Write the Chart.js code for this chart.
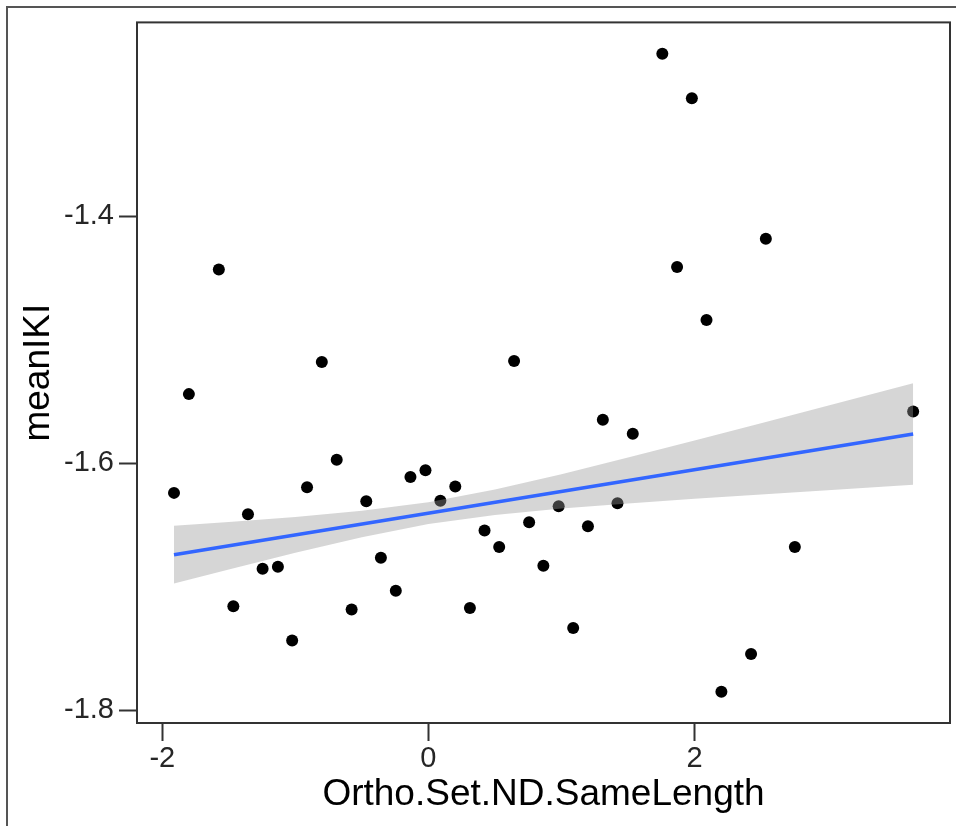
<!DOCTYPE html>
<html>
<head>
<meta charset="utf-8">
<title>meanIKI vs Ortho.Set.ND.SameLength</title>
<script src="https://cdn.jsdelivr.net/npm/chart.js@4.4.1/dist/chart.umd.min.js"></script>
<style>
  html, body { margin: 0; padding: 0; background: #fff; }
  #wrap { position: relative; width: 956px; height: 826px; }
  #frame {
    position: absolute; left: 6px; top: 6px; right: 0; bottom: 0;
    border-top: 2px solid #555; border-left: 2px solid #555;
    pointer-events: none;
  }
  canvas { position: absolute; left: 0; top: 0; }
</style>
</head>
<body>
<div id="wrap">
  <div id="frame"></div>
  <canvas id="chart" width="956" height="826"></canvas>
</div>
<script>
const xValues = [
  1.758, 1.980, -1.575, 2.536, 1.869, 2.090, -1.800, -0.801, 0.644, 3.643,
  1.311, 1.536, -1.912, -0.689, -0.912, -0.135, -0.022, 0.202, 0.090, -0.467,
  -1.356, 0.979, 1.421, 0.422, 0.757, 1.199, 0.532, 2.754, -0.357, -1.246,
  -1.131, 0.864, -0.245, -1.466, -0.577, 0.312, 1.088, -1.024, 2.425, 2.202
];
const yValues = [
  -1.2683, -1.3044, -1.4431, -1.4183, -1.4412, -1.4840, -1.5441, -1.5180, -1.5172, -1.5581,
  -1.5648, -1.5762, -1.6241, -1.5972, -1.6196, -1.6112, -1.6057, -1.6190, -1.6305, -1.6309,
  -1.6414, -1.6349, -1.6325, -1.6545, -1.6478, -1.6511, -1.6680, -1.6680, -1.6766, -1.6855,
  -1.6839, -1.6831, -1.7033, -1.7160, -1.7186, -1.7173, -1.7335, -1.7437, -1.7547, -1.7852
];

// linear fit and its confidence band
const fitX = [-1.912, 3.643];
const fitY = [-1.6742, -1.5764];
const bandX = [-1.912, -1.5, -1, -0.5, 0, 0.5, 1, 1.5, 2, 2.5, 3, 3.643];
const bandUpper = [-1.6507, -1.6477, -1.6436, -1.6386, -1.6316, -1.6214, -1.6090, -1.5955, -1.5817, -1.5676, -1.5535, -1.5352];
const bandLower = [-1.6976, -1.6862, -1.6726, -1.6600, -1.6494, -1.6420, -1.6368, -1.6327, -1.6289, -1.6254, -1.6220, -1.6176];

const xTicks = [-2, 0, 2];
const yTicks = [-1.8, -1.6, -1.4];

const toXY = (xs, ys) => xs.map((x, i) => ({ x, y: ys[i] }));

// panel border, drawn on top like ggplot's panel.border
const panelBorder = {
  id: 'panelBorder',
  afterDraw(chart) {
    const { ctx, chartArea: a } = chart;
    ctx.save();
    ctx.strokeStyle = '#333';
    ctx.lineWidth = 2;
    ctx.strokeRect(a.left, a.top, a.right - a.left, a.bottom - a.top);
    ctx.restore();
  }
};

const ctx = document.getElementById('chart').getContext('2d');
new Chart(ctx, {
  type: 'scatter',
  data: {
    datasets: [
      {
        type: 'line',
        label: 'fit',
        data: toXY(fitX, fitY),
        borderColor: '#3366FF',
        borderWidth: 3.5,
        pointRadius: 0,
        showLine: true,
        fill: false,
        order: 1
      },
      {
        type: 'line',
        label: 'upper',
        data: toXY(bandX, bandUpper),
        borderWidth: 0,
        borderColor: 'rgba(0,0,0,0)',
        backgroundColor: 'rgba(153,153,153,0.4)',
        pointRadius: 0,
        showLine: true,
        fill: '+1',
        order: 2
      },
      {
        type: 'line',
        label: 'lower',
        data: toXY(bandX, bandLower),
        borderWidth: 0,
        borderColor: 'rgba(0,0,0,0)',
        pointRadius: 0,
        showLine: true,
        fill: false,
        order: 2
      },
      {
        label: 'meanIKI',
        data: toXY(xValues, yValues),
        backgroundColor: '#000',
        borderWidth: 0,
        pointRadius: 6,
        order: 3
      }
    ]
  },
  options: {
    responsive: false,
    animation: false,
    events: [],
    layout: { padding: { top: 21, right: 4, left: 0, bottom: 0 } },
    plugins: {
      legend: { display: false },
      tooltip: { enabled: false }
    },
    scales: {
      x: {
        type: 'linear',
        min: -2.190,
        max: 3.920,
        afterBuildTicks: (scale) => { scale.ticks = xTicks.map(v => ({ value: v })); },
        afterFit: (scale) => { scale.height = 103; },
        grid: {
          drawOnChartArea: false,
          drawTicks: true,
          tickLength: 18,
          tickWidth: 2,
          tickColor: '#333'
        },
        border: { display: false },
        ticks: {
          padding: 1,
          color: '#262626',
          font: { family: 'Liberation Sans, Arial, sans-serif', size: 29 },
          callback: (v) => String(v)
        },
        title: {
          display: true,
          text: 'Ortho.Set.ND.SameLength',
          color: '#000',
          font: { family: 'Liberation Sans, Arial, sans-serif', size: 37 },
          padding: { top: 0, bottom: 9 }
        }
      },
      y: {
        type: 'linear',
        min: -1.8105,
        max: -1.2430,
        afterBuildTicks: (scale) => { scale.ticks = yTicks.map(v => ({ value: v })); },
        afterFit: (scale) => { scale.width = 137; },
        grid: {
          drawOnChartArea: false,
          drawTicks: true,
          tickLength: 18,
          tickWidth: 2,
          tickColor: '#333'
        },
        border: { display: false },
        ticks: {
          padding: 5,
          color: '#262626',
          font: { family: 'Liberation Sans, Arial, sans-serif', size: 29 },
          callback: (v) => v.toFixed(1)
        },
        title: {
          display: true,
          text: 'meanIKI',
          color: '#000',
          font: { family: 'Liberation Sans, Arial, sans-serif', size: 37 },
          padding: { top: 17, bottom: 0 }
        }
      }
    }
  },
  plugins: [panelBorder]
});
</script>
</body>
</html>
